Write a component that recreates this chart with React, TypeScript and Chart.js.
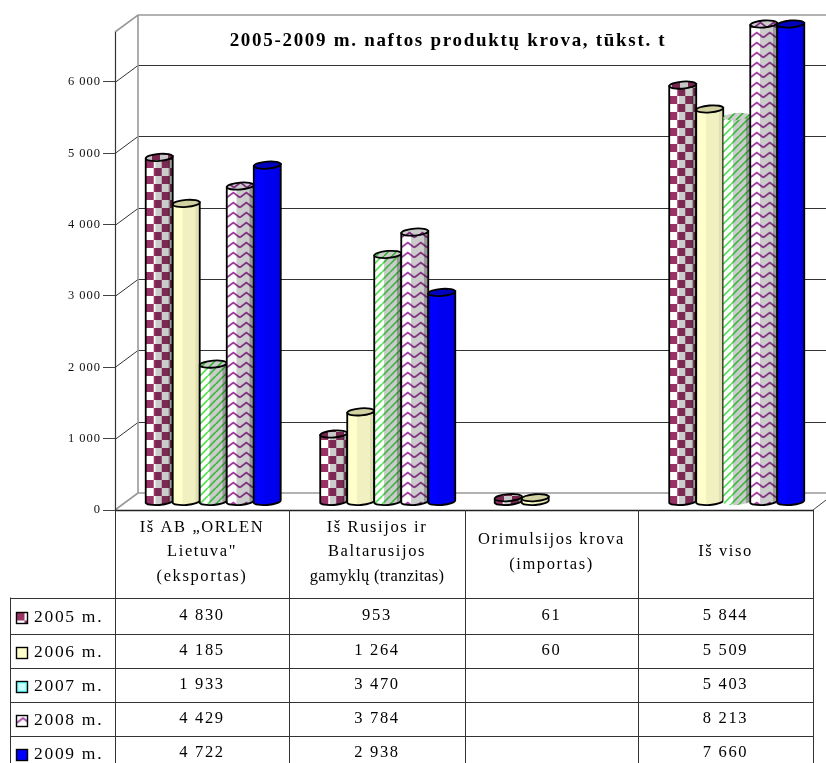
import React, { useEffect, useRef } from "react";
import { Chart, registerables } from "chart.js";

Chart.register(...registerables);

const TITLE = "2005-2009 m. naftos produktų krova, tūkst. t";
const FONT = '"Liberation Serif"';
const categoryLines = [
  ["Iš AB „ORLEN", 'Lietuva"', "(eksportas)"],
  ["Iš Rusijos ir", "Baltarusijos", "gamyklų (tranzitas)"],
  ["Orimulsijos krova", "(importas)"],
  ["Iš viso"],
];
const years = ["2005 m.", "2006 m.", "2007 m.", "2008 m.", "2009 m."];
const values2005 = [4830, 953, 61, 5844];
const values2006 = [4185, 1264, 60, 5509];
const values2007 = [1933, 3470, null, 5403];
const values2008 = [4429, 3784, null, 8213];
const values2009 = [4722, 2938, null, 7660];
const allValues = [values2005, values2006, values2007, values2008, values2009];
const tickValues = [0, 1000, 2000, 3000, 4000, 5000, 6000];

const DEPTH_X = 23;
const DEPTH_Y = -17;
const BAR_DX = 11;
const BAR_DY = -8;
const RY = 3.5;
const TILT = 0.08;
const ROW_LINES = [597.5, 633.5, 668, 702, 736];
const ROW_TEXT = [616, 651, 685, 719, 753];
const COL_LINES = [115, 289, 465, 638, 813];
const headerSpacing = [
  [1.6, 1.6, 1.6],
  [1.6, 1.6, 0.3],
  [1.6, 1.6],
  [1.6],
];

function tile(w: number, h: number, paint: (c: CanvasRenderingContext2D) => void) {
  const cv = document.createElement("canvas");
  cv.width = w;
  cv.height = h;
  paint(cv.getContext("2d") as CanvasRenderingContext2D);
  const probe = document.createElement("canvas").getContext("2d") as CanvasRenderingContext2D;
  return probe.createPattern(cv, "repeat") as CanvasPattern;
}

const makeFills = () => [
  tile(16, 16, (c) => {
    c.fillStyle = "#fff";
    c.fillRect(0, 0, 16, 16);
    c.fillStyle = "#993366";
    c.fillRect(0, 0, 8, 8);
    c.fillRect(8, 8, 8, 8);
  }),
  "#ffffcc",
  tile(8, 8, (c) => {
    c.fillStyle = "#fff";
    c.fillRect(0, 0, 8, 8);
    c.strokeStyle = "#33dd33";
    c.lineWidth = 1.5;
    for (const o of [-8, 0, 8]) {
      c.beginPath();
      c.moveTo(o, 8);
      c.lineTo(o + 8, 0);
      c.stroke();
    }
  }),
  tile(13, 10, (c) => {
    c.fillStyle = "#fff";
    c.fillRect(0, 0, 13, 10);
    c.strokeStyle = "#993399";
    c.lineWidth = 1.7;
    c.beginPath();
    c.moveTo(0, 7.5);
    c.lineTo(6.5, 2.5);
    c.lineTo(13, 7.5);
    c.stroke();
  }),
  "#0000ff",
];

// How strongly each series darkens in the stepped bands of its cylinder.
const shadeStrength = [1, 0.3, 1, 1, 0.3];
const topTint = ["rgba(0,0,0,0.22)", "rgba(70,70,30,0.25)", "rgba(0,0,0,0.2)", "rgba(0,0,0,0.2)", "rgba(0,0,0,0.25)"];

function drawCylinder(
  ctx: CanvasRenderingContext2D,
  left: number,
  width: number,
  top: number,
  base: number,
  fill: any,
  border: string,
  shade: number,
  tint: string
) {
  const right = left + width;
  const cx = left + width / 2;
  const rx = width / 2;
  const lift = rx * Math.sin(TILT);
  const body = () => {
    ctx.beginPath();
    ctx.moveTo(left, top + lift);
    ctx.lineTo(left, base + lift);
    ctx.ellipse(cx, base, rx, RY, -TILT, Math.PI, 0, true);
    ctx.lineTo(right, top - lift);
    ctx.closePath();
  };
  ctx.save();
  body();
  ctx.save();
  ctx.clip();
  ctx.translate(left, 0);
  ctx.fillStyle = fill;
  ctx.fillRect(0, top - 8, width, base - top + 16);
  ctx.restore();
  const g = ctx.createLinearGradient(left, 0, right, 0);
  const mid = 0.2 * shade;
  const far = 0.4 * shade;
  g.addColorStop(0, "rgba(0,0,0,0)");
  g.addColorStop(0.34, "rgba(0,0,0,0)");
  g.addColorStop(0.38, `rgba(0,0,0,${mid})`);
  g.addColorStop(0.82, `rgba(0,0,0,${mid})`);
  g.addColorStop(0.86, `rgba(0,0,0,${far})`);
  g.addColorStop(1, `rgba(0,0,0,${far})`);
  body();
  ctx.fillStyle = g;
  ctx.fill();
  body();
  ctx.strokeStyle = border;
  ctx.lineWidth = 1.8;
  ctx.stroke();
  ctx.beginPath();
  ctx.ellipse(cx, top, rx, RY, -TILT, 0, Math.PI * 2);
  ctx.fillStyle = fill;
  ctx.fill();
  ctx.fillStyle = tint;
  ctx.fill();
  ctx.strokeStyle = border;
  ctx.stroke();
  ctx.restore();
}

const spaced = (v: number) => String(v).replace(/\B(?=(\d{3})+$)/g, " ");

const wallsPlugin = {
  id: "walls",
  beforeDraw(chart: any) {
    const { ctx, chartArea: a, scales } = chart;
    ctx.letterSpacing = "1px";
    ctx.save();
    ctx.lineWidth = 1;
    const backLeft = a.left + DEPTH_X;
    const edge = chart.width;
    // Grid on the back wall and its return on the side wall.
    ctx.strokeStyle = "#333";
    for (const t of scales.y.ticks) {
      if (t.value === 0) continue;
      const y = Math.round(scales.y.getPixelForValue(t.value)) + 0.5;
      ctx.beginPath();
      ctx.moveTo(a.left, y);
      ctx.lineTo(backLeft, y + DEPTH_Y);
      ctx.lineTo(edge, y + DEPTH_Y);
      ctx.stroke();
    }
    // Wall frame.
    ctx.strokeStyle = "#999";
    ctx.lineWidth = 1.6;
    ctx.beginPath();
    ctx.moveTo(a.left, a.top);
    ctx.lineTo(backLeft, a.top + DEPTH_Y);
    ctx.lineTo(edge, a.top + DEPTH_Y);
    ctx.moveTo(backLeft, a.top + DEPTH_Y);
    ctx.lineTo(backLeft, a.bottom + DEPTH_Y);
    ctx.lineTo(edge, a.bottom + DEPTH_Y);
    ctx.moveTo(a.left, a.bottom);
    ctx.lineTo(backLeft, a.bottom + DEPTH_Y);
    ctx.stroke();
    ctx.strokeStyle = "#444";
    ctx.lineWidth = 1;
    ctx.beginPath();
    ctx.moveTo(a.right, a.bottom);
    ctx.lineTo(edge, a.bottom - 10);
    ctx.stroke();
    ctx.strokeStyle = "#333";
    ctx.lineWidth = 1.2;
    ctx.beginPath();
    ctx.moveTo(a.left + 0.5, a.top);
    ctx.lineTo(a.left + 0.5, a.bottom);
    ctx.stroke();
    ctx.restore();
  },
  beforeDatasetsDraw(chart: any) {
    const { ctx, chartArea: a } = chart;
    ctx.save();
    chart.data.datasets.forEach((ds: any, i: number) => {
      chart.getDatasetMeta(i).data.forEach((bar: any, j: number) => {
        if (ds.data[j] == null) return;
        const left = bar.x - bar.width / 2 + BAR_DX;
        const top = Math.max(bar.y, a.top) + BAR_DY;
        const base = bar.base + BAR_DY;
        const border = Array.isArray(ds.borderColor) ? ds.borderColor[j] : ds.borderColor;
        drawCylinder(ctx, left, bar.width, top, base, ds.backgroundColor, border, shadeStrength[i], topTint[i]);
      });
    });
    ctx.restore();
    return false;
  },
  afterDraw(chart: any) {
    const { ctx, chartArea: a } = chart;
    ctx.save();
    ctx.fillStyle = "#000";
    ctx.textAlign = "center";
    ctx.textBaseline = "middle";
    ctx.font = `bold 19px ${FONT}`;
    ctx.letterSpacing = "1.7px";
    ctx.fillText(TITLE, 448, 41);

    // Data table under the plot.
    const tableBottom = chart.height;
    ctx.strokeStyle = "#222";
    ctx.lineWidth = 1.4;
    ctx.beginPath();
    ctx.moveTo(a.left, a.bottom + 0.5);
    ctx.lineTo(a.right, a.bottom + 0.5);
    ctx.stroke();
    ctx.lineWidth = 1;
    ctx.strokeStyle = "#333";
    ctx.beginPath();
    COL_LINES.forEach((x) => {
      ctx.moveTo(x + 0.5, a.bottom);
      ctx.lineTo(x + 0.5, tableBottom);
    });
    ctx.moveTo(10.5, ROW_LINES[0]);
    ctx.lineTo(10.5, tableBottom);
    ROW_LINES.forEach((y) => {
      ctx.moveTo(10.5, Math.round(y) + 0.5);
      ctx.lineTo(813.5, Math.round(y) + 0.5);
    });
    ctx.stroke();

    ctx.font = `16.5px ${FONT}`;
    categoryLines.forEach((lines, c) => {
      const cx = (COL_LINES[c] + COL_LINES[c + 1]) / 2;
      const y0 = 552 - ((lines.length - 1) * 24.5) / 2;
      lines.forEach((line, k) => {
        ctx.letterSpacing = `${headerSpacing[c][k]}px`;
        ctx.fillText(line, cx, y0 + k * 24.5);
      });
    });
    ctx.letterSpacing = "1.7px";
    allValues.forEach((vals, r) => {
      vals.forEach((v, c) => {
        if (v == null) return;
        ctx.fillText(spaced(v), (COL_LINES[c] + COL_LINES[c + 1]) / 2, ROW_TEXT[r]);
      });
    });
    ctx.textAlign = "left";
    ctx.font = `17.5px ${FONT}`;
    years.forEach((label, r) => {
      const y = ROW_TEXT[r] + 1;
      ctx.fillStyle = "#000";
      ctx.fillText(label, 34, y);
      const ds = chart.data.datasets[r];
      const keyFill = r === 2 ? "#66ffff" : ds.backgroundColor;
      ctx.save();
      ctx.translate(16.5, y - 4.5);
      ctx.fillStyle = keyFill;
      ctx.fillRect(0, 0, 11, 11);
      if (r === 2) {
        ctx.fillStyle = "#ccffff";
        ctx.fillRect(2, 2, 7, 7);
      }
      ctx.strokeStyle = "#000";
      ctx.lineWidth = 1.4;
      ctx.strokeRect(0, 0, 11, 11);
      ctx.restore();
    });
    ctx.restore();
  },
};

export default function App() {
  const ref = useRef<HTMLCanvasElement | null>(null);
  useEffect(() => {
    const fills = makeFills();
    const chart = new Chart(ref.current as HTMLCanvasElement, {
      type: "bar",
      data: {
        labels: categoryLines.map((l) => l.join(" ")),
        datasets: allValues.map((data, i) => ({
          label: years[i],
          data,
          backgroundColor: fills[i],
          borderColor: i === 2 ? ["#000", "#000", "#000", "rgba(0,0,0,0)"] : "#000",
        })) as any,
      },
      options: {
        animation: false,
        responsive: false,
        layout: { padding: { top: 32, right: 13, bottom: 253, left: 0 } },
        plugins: { legend: { display: false }, title: { display: false }, tooltip: { enabled: false } },
        datasets: { bar: { barPercentage: 1, categoryPercentage: 0.774 } },
        scales: {
          x: { display: false, stacked: false },
          y: {
            min: 0,
            max: 6700,
            afterBuildTicks: (s: any) => {
              s.ticks = tickValues.map((value) => ({ value }));
            },
            afterFit: (s: any) => {
              s.width = 115;
            },
            border: { display: false },
            grid: { drawOnChartArea: false, drawTicks: true, tickLength: 12, color: "#444" },
            ticks: {
              autoSkip: false,
              padding: 2,
              color: "#111",
              font: { family: "Liberation Serif", size: 12.5 },
              callback: (v: any) => spaced(v),
            },
          },
        },
      },
      plugins: [wallsPlugin],
    } as any);
    return () => chart.destroy();
  }, []);
  return (
    <canvas
      ref={ref}
      width={826}
      height={763}
      style={{ position: "absolute", left: 0, top: 0, display: "block" }}
    />
  );
}
